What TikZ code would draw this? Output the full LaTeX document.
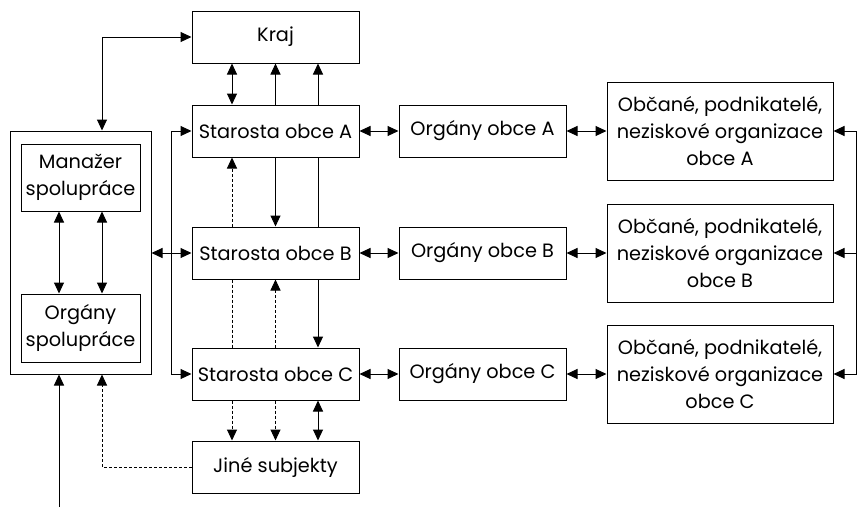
\documentclass[tikz,border=0pt]{standalone}
\usepackage{fontspec}
\setmainfont{Poppins}
\usetikzlibrary{arrows.meta,calc}
\begin{document}
\begin{tikzpicture}[x=1pt,y=-1pt,
  box/.style={draw,line width=1pt,inner sep=0pt,align=center,font=\fontsize{19.3}{27}\selectfont},
  conn/.style={line width=1pt,arrows={-Triangle[length=11pt,width=10pt]}},
  biconn/.style={line width=1pt,arrows={Triangle[length=11pt,width=10pt]-Triangle[length=11pt,width=10pt]}},
  plain/.style={line width=1pt},
  dsh/.style={dash pattern=on 3pt off 2pt}]
\useasboundingbox (0,0) rectangle (860,507);
% nodes
\node[box,minimum width=167pt,minimum height=52pt] (kraj) at (275.5,37) {Kraj};
\node[box,minimum width=167pt,minimum height=52pt] (sa) at (275.5,131) {Starosta obce A};
\node[box,minimum width=167pt,minimum height=52pt] (sb) at (275.5,253) {Starosta obce B};
\node[box,minimum width=167pt,minimum height=52pt] (sc) at (275.5,374) {Starosta obce C};
\node[box,minimum width=167pt,minimum height=52pt] (jine) at (275.5,467) {Jiné subjekty};
\node[box,minimum width=167pt,minimum height=52pt] (oa) at (482.5,131) {Orgány obce A};
\node[box,minimum width=167pt,minimum height=52pt] (ob) at (482.5,253) {Orgány obce B};
\node[box,minimum width=167pt,minimum height=52pt] (oc) at (482.5,374) {Orgány obce C};
\node[box,minimum width=226pt,minimum height=98pt] (ca) at (720,131) {Občané, podnikatelé,\\neziskové organizace\\obce A};
\node[box,minimum width=226pt,minimum height=98pt] (cb) at (720,253) {Občané, podnikatelé,\\neziskové organizace\\obce B};
\node[box,minimum width=226pt,minimum height=98pt] (cc) at (720,374) {Občané, podnikatelé,\\neziskové organizace\\obce C};
\node[box,minimum width=141pt,minimum height=243pt] (outer) at (80.5,252.5) {};
\node[box,minimum width=119pt,minimum height=67pt] (man) at (80.5,177.5) {Manažer\\spolupráce};
\node[box,minimum width=119pt,minimum height=68pt] (org) at (80.5,328) {Orgány\\spolupráce};
% helper coordinates
\coordinate (x1) at (232,0);
\coordinate (x2) at (275.5,0);
\coordinate (x3) at (318,0);
\coordinate (xl) at (171,0);
\coordinate (xr) at (856,0);
\coordinate (xm1) at (59,0);
\coordinate (xm2) at (102,0);
\coordinate (bot) at (59,507);
% Kraj - manager
\draw[biconn] (kraj.west) -| (xm2 |- outer.north);
% Kraj - Starosta A
\draw[biconn] (x1 |- sa.north) -- (x1 |- kraj.south);
\draw[conn] (x2 |- sa.north) -- (x2 |- kraj.south);
\draw[conn] (x3 |- sa.north) -- (x3 |- kraj.south);
% A - B
\draw[conn,dsh] (x1 |- sb.north) -- (x1 |- sa.south);
\draw[conn] (x2 |- sa.south) -- (x2 |- sb.north);
\draw[plain] (x3 |- sa.south) -- (x3 |- sb.north);
% B - C
\draw[plain,dsh] (x1 |- sb.south) -- (x1 |- sc.north);
\draw[conn,dsh] (x2 |- sc.north) -- (x2 |- sb.south);
\draw[conn] (x3 |- sb.south) -- (x3 |- sc.north);
% C - Jine
\draw[conn,dsh] (x1 |- sc.south) -- (x1 |- jine.north);
\draw[conn,dsh] (x2 |- sc.south) -- (x2 |- jine.north);
\draw[biconn] (x3 |- sc.south) -- (x3 |- jine.north);
% left vertical
\draw[biconn] (sa.west) -| (xl |- sc.west) -- (sc.west);
\draw[biconn] (outer.east |- sb.west) -- (sb.west);
% horizontals
\draw[biconn] (sa.east) -- (oa.west);
\draw[biconn] (oa.east) -- (ca.west);
\draw[biconn] (sb.east) -- (ob.west);
\draw[biconn] (ob.east) -- (cb.west);
\draw[biconn] (sc.east) -- (oc.west);
\draw[biconn] (oc.east) -- (cc.west);
% right
\draw[biconn] (ca.east) -| (xr |- cc.east) -- (cc.east);
\draw[conn] (xr |- cb.east) -- (cb.east);
% manager - org
\draw[biconn] (xm1 |- man.south) -- (xm1 |- org.north);
\draw[biconn] (xm2 |- man.south) -- (xm2 |- org.north);
% bottom
\draw[conn] (bot) -- (bot |- outer.south);
\draw[conn,dsh] (jine.west) -| (xm2 |- outer.south);
\end{tikzpicture}
\end{document}
